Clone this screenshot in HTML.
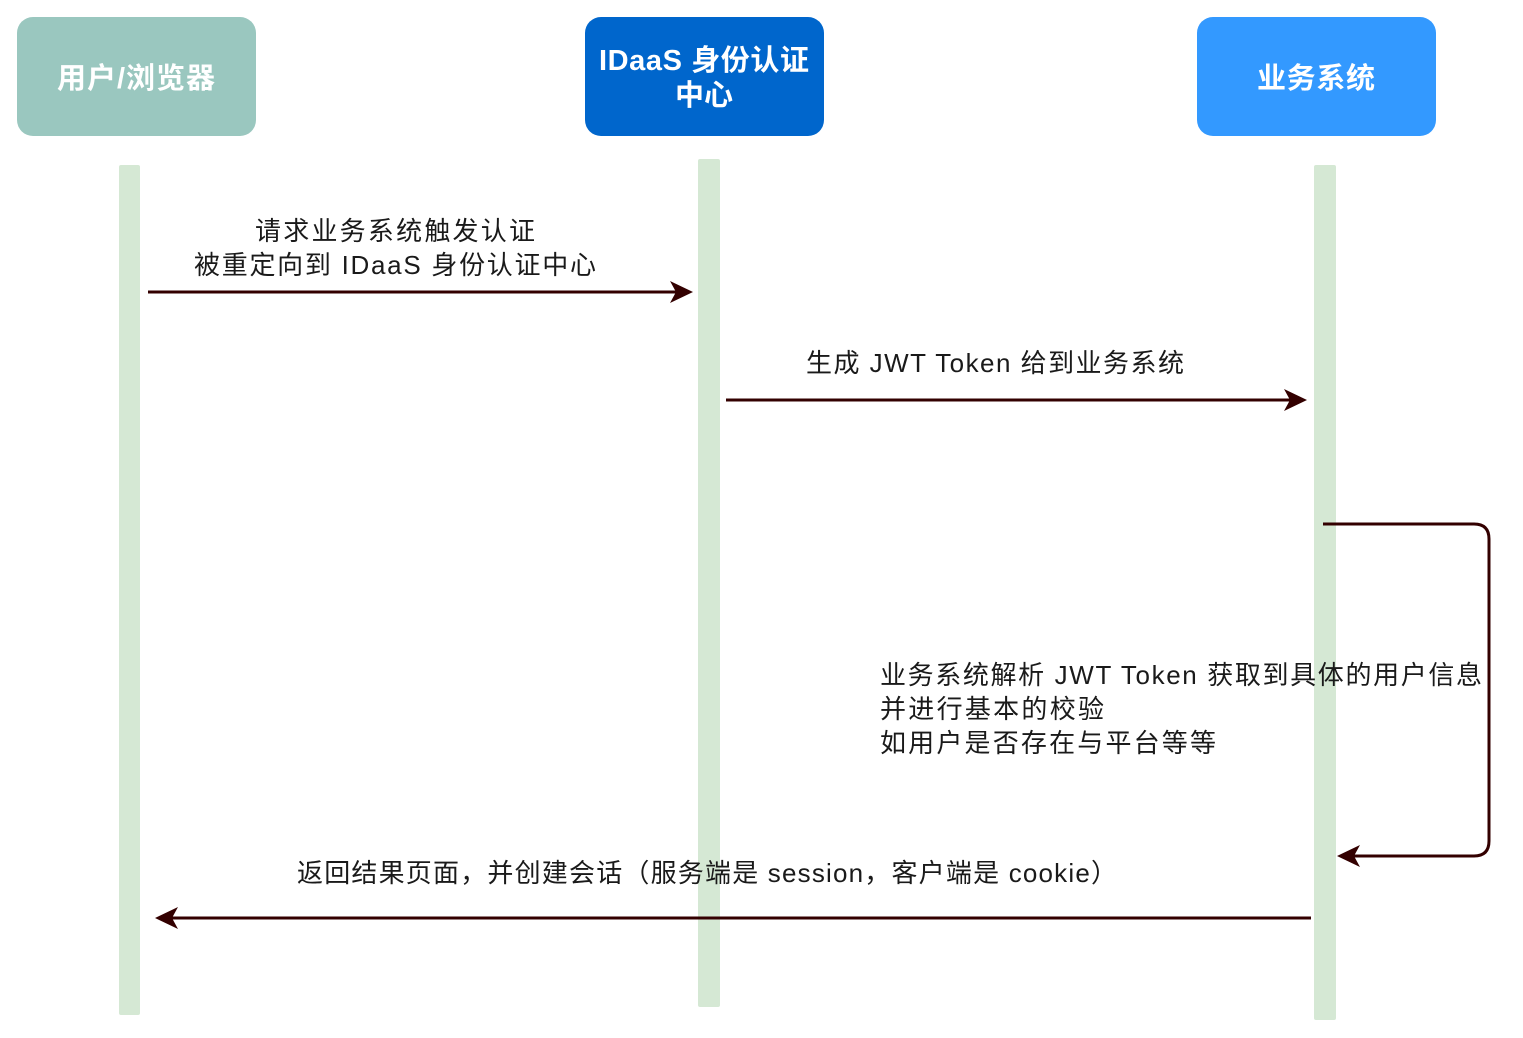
<!DOCTYPE html>
<html><head><meta charset="utf-8"><style>html,body{margin:0;padding:0;background:#fff}svg{display:block}</style></head>
<body>
<svg width="1523" height="1038" viewBox="0 0 1523 1038" xmlns="http://www.w3.org/2000/svg" font-family="'Liberation Sans','Noto Sans CJK SC',sans-serif">
<rect x="17" y="17" width="239" height="119" rx="16" fill="#9ac7bf"/>
<rect x="585" y="17" width="239" height="119" rx="16" fill="#0066cc"/>
<rect x="1197" y="17" width="239" height="119" rx="16" fill="#3399ff"/>
<g fill="#fff" font-weight="bold" font-size="29" text-anchor="middle">
<text x="136" y="88" textLength="158">用户/浏览器</text>
<text x="704" y="70" textLength="210">IDaaS 身份认证</text>
<text x="704" y="105">中心</text>
<text x="1316" y="88" textLength="118">业务系统</text>
</g>
<g fill="#d5e8d4">
<rect x="119" y="165" width="21" height="850" rx="2"/>
<rect x="698" y="159" width="22" height="848" rx="2"/>
<rect x="1314" y="165" width="22" height="855" rx="2"/>
</g>
<g fill="#1a1a1a" font-size="26">
<text x="395" y="240" text-anchor="middle" textLength="280">请求业务系统触发认证</text>
<text x="395" y="274" text-anchor="middle" textLength="402">被重定向到 IDaaS 身份认证中心</text>
<text x="806" y="372" textLength="378">生成 JWT Token 给到业务系统</text>
<text x="880" y="684" textLength="602">业务系统解析 JWT Token 获取到具体的用户信息</text>
<text x="880" y="718" textLength="224">并进行基本的校验</text>
<text x="880" y="752" textLength="336">如用户是否存在与平台等等</text>
<text x="297" y="882" textLength="820">返回结果页面，并创建会话（服务端是 session，客户端是 cookie）</text>
</g>
<g stroke="#330000" stroke-width="3" fill="none">
<line x1="148" y1="292" x2="680" y2="292"/>
<line x1="726" y1="400" x2="1294" y2="400"/>
<path d="M1323 524 H1474 Q1489 524 1489 539 V841 Q1489 856 1474 856 H1350"/>
<line x1="1311" y1="918" x2="168" y2="918"/>
</g>
<g fill="#330000">
<path d="M693 292 L670 281 L676 292 L670 303 Z"/>
<path d="M1307 400 L1284 389 L1290 400 L1284 411 Z"/>
<path d="M1337 856 L1360 845 L1354 856 L1360 867 Z"/>
<path d="M155 918 L178 907 L172 918 L178 929 Z"/>
</g>
</svg>
</body></html>
